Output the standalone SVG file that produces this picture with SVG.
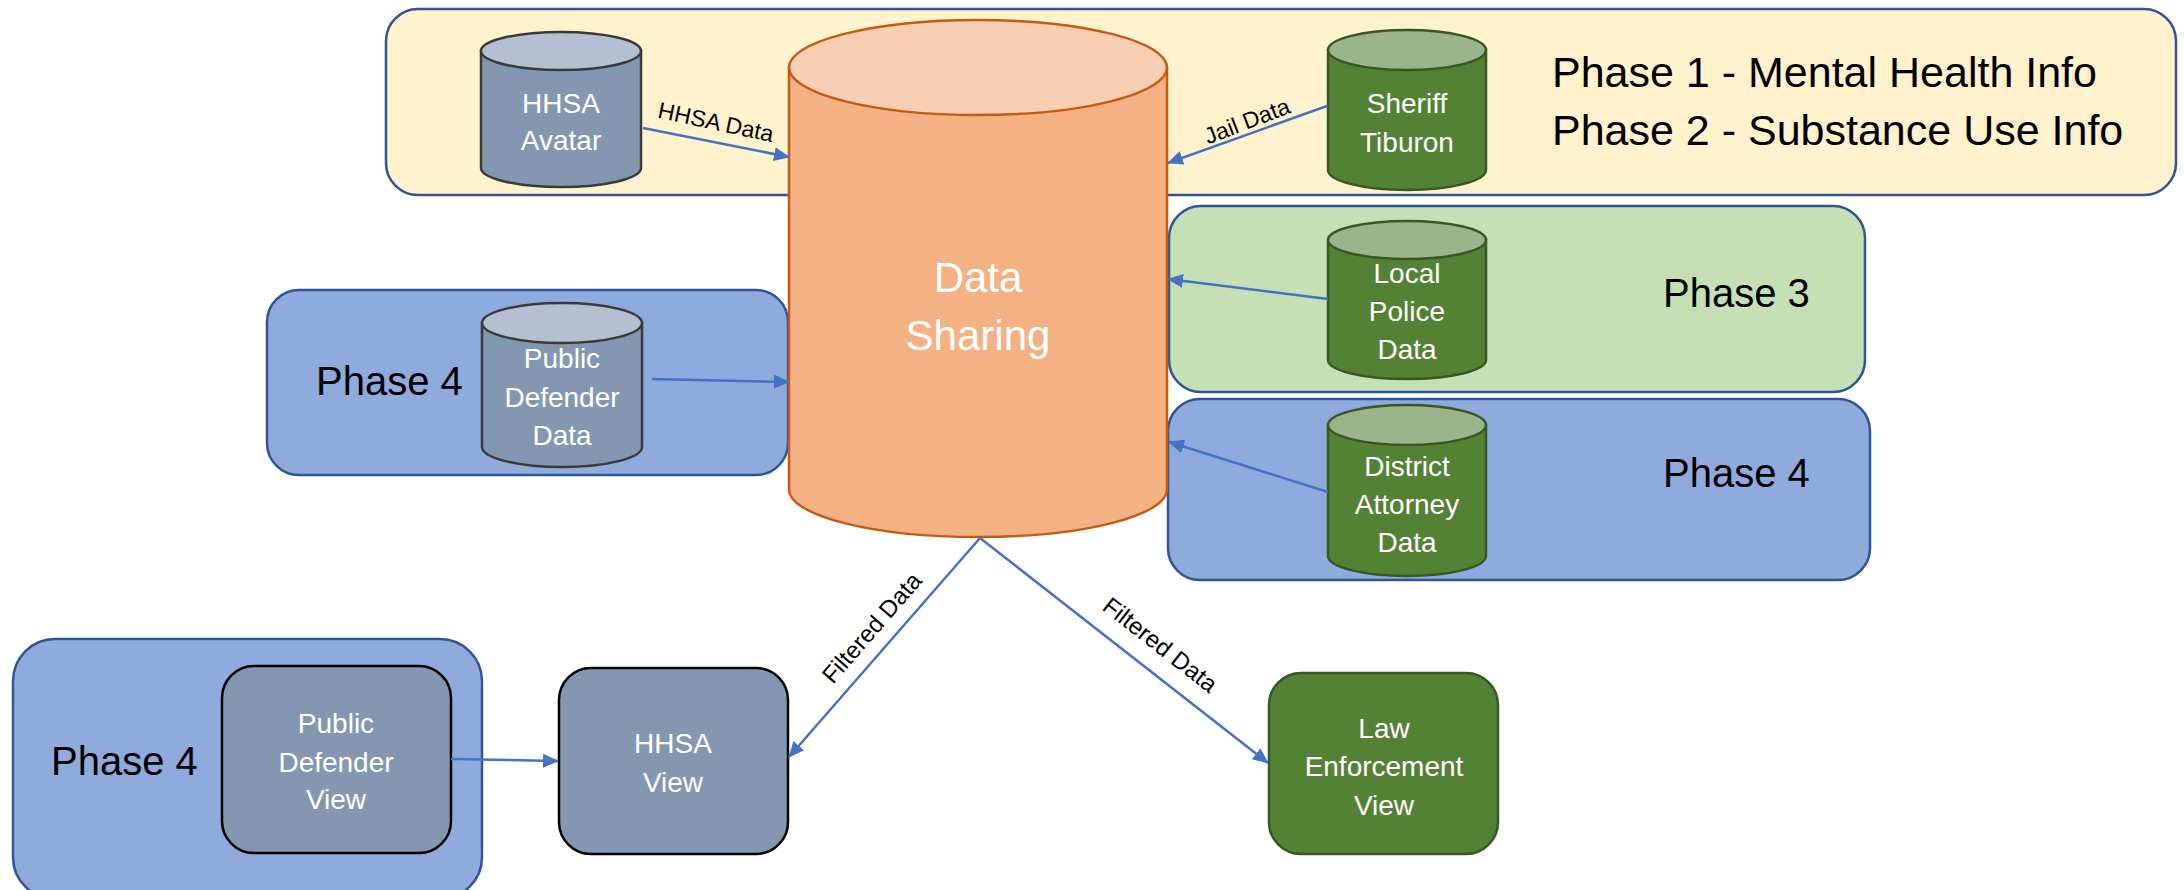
<svg xmlns="http://www.w3.org/2000/svg" width="2184" height="890" viewBox="0 0 2184 890">
<style>
.box{stroke:#2F5597;stroke-width:2.5}
.yel{fill:#FFF2CC}
.grn{fill:#C5E0B4}
.blu{fill:#8FAADC}
.gside{fill:#8497B0;stroke:#3A3A3A;stroke-width:2.5}
.gtop{fill:#B4C0D1;stroke:#3A3A3A;stroke-width:2.5}
.vside{fill:#548235;stroke:#385723;stroke-width:2.5}
.vtop{fill:#9AB58A;stroke:#385723;stroke-width:2.5}
.oside{fill:#F4B183;stroke:#C55A11;stroke-width:2.5}
.otop{fill:#F8CEB2;stroke:#C55A11;stroke-width:2.5}
.view{fill:#8497B0;stroke:#000;stroke-width:2.5}
.lev{fill:#548235;stroke:#385723;stroke-width:2.5}
.nt{font-family:"Liberation Sans",Arial,sans-serif;font-size:28px;fill:#fff;text-anchor:middle}
.ds{font-family:"Liberation Sans",Arial,sans-serif;font-size:42px;fill:#fff;text-anchor:middle}
.ph{font-family:"Liberation Sans",Arial,sans-serif;font-size:40px;fill:#000}
.ph1{font-family:"Liberation Sans",Arial,sans-serif;font-size:43px;fill:#000}
.lbl{font-family:"Liberation Sans",Arial,sans-serif;font-size:23px;fill:#000;text-anchor:middle}
.lbl2{font-family:"Liberation Sans",Arial,sans-serif;font-size:24px;fill:#000;text-anchor:middle}
.con{stroke:#4472C4;stroke-width:2.5;fill:none;marker-end:url(#ah)}
</style>
<defs>
<marker id="ah" markerUnits="userSpaceOnUse" markerWidth="16" markerHeight="14" refX="15" refY="7" orient="auto">
<path d="M0,0 L16,7 L0,14 z" fill="#4472C4"/>
</marker>
</defs>

<g id="phase12">
<rect class="box yel" x="386" y="9" width="1790" height="186" rx="32"/>
<text class="ph1" x="1552" y="87">Phase 1 - Mental Health Info</text>
<text class="ph1" x="1552" y="145">Phase 2 - Substance Use Info</text>
</g>
<g id="phase3">
<rect class="box grn" x="1169" y="206" width="696" height="186" rx="32"/>
<text class="ph" x="1663" y="307">Phase 3</text>
</g>
<g id="phase4-da">
<rect class="box blu" x="1168" y="399" width="702" height="181" rx="32"/>
<text class="ph" x="1663" y="487">Phase 4</text>
</g>
<g id="phase4-pd">
<rect class="box blu" x="267" y="290" width="521" height="185" rx="32"/>
<text class="ph" x="316" y="395">Phase 4</text>
</g>
<g id="phase4-pdview">
<rect class="box blu" x="13" y="639" width="469" height="260" rx="42"/>
<text class="ph" x="51" y="775">Phase 4</text>
</g>

<g id="data-sharing">
<path class="oside" d="M789,67.5 L789,489.5 A189,47.5 0 0 0 1167,489.5 L1167,67.5 Z"/>
<ellipse class="otop" cx="978" cy="67.5" rx="189" ry="47.5"/>
<text class="ds" x="978" y="292">Data</text>
<text class="ds" x="978" y="350">Sharing</text>
</g>

<g id="hhsa-avatar">
<path class="gside" d="M481,51 L481,168 A80,19 0 0 0 641,168 L641,51 Z"/>
<ellipse class="gtop" cx="561" cy="51" rx="80" ry="19"/>
<text class="nt" x="561" y="113">HHSA</text>
<text class="nt" x="561" y="150">Avatar</text>
</g>
<g id="sheriff-tiburon">
<path class="vside" d="M1328,50 L1328,170 A79,20 0 0 0 1486,170 L1486,50 Z"/>
<ellipse class="vtop" cx="1407" cy="50" rx="79" ry="20"/>
<text class="nt" x="1407" y="113">Sheriff</text>
<text class="nt" x="1407" y="152">Tiburon</text>
</g>
<g id="local-police">
<path class="vside" d="M1328,240 L1328,360 A79,19 0 0 0 1486,360 L1486,240 Z"/>
<ellipse class="vtop" cx="1407" cy="240" rx="79" ry="19"/>
<text class="nt" x="1407" y="283">Local</text>
<text class="nt" x="1407" y="321">Police</text>
<text class="nt" x="1407" y="359">Data</text>
</g>
<g id="district-attorney">
<path class="vside" d="M1328,425 L1328,556 A79,20 0 0 0 1486,556 L1486,425 Z"/>
<ellipse class="vtop" cx="1407" cy="425" rx="79" ry="20"/>
<text class="nt" x="1407" y="476">District</text>
<text class="nt" x="1407" y="514">Attorney</text>
<text class="nt" x="1407" y="552">Data</text>
</g>
<g id="public-defender-data">
<path class="gside" d="M482,323 L482,447 A80,20 0 0 0 642,447 L642,323 Z"/>
<ellipse class="gtop" cx="562" cy="323" rx="80" ry="20"/>
<text class="nt" x="562" y="368">Public</text>
<text class="nt" x="562" y="407">Defender</text>
<text class="nt" x="562" y="445">Data</text>
</g>
<g id="hhsa-view">
<rect class="view" x="559" y="668" width="229" height="186" rx="32"/>
<text class="nt" x="673" y="753">HHSA</text>
<text class="nt" x="673" y="792">View</text>
</g>
<g id="public-defender-view">
<rect class="view" x="222" y="666" width="229" height="187" rx="32"/>
<text class="nt" x="336" y="733">Public</text>
<text class="nt" x="336" y="772">Defender</text>
<text class="nt" x="336" y="809">View</text>
</g>
<g id="law-enforcement-view">
<rect class="lev" x="1269" y="673" width="229" height="181" rx="32"/>
<text class="nt" x="1384" y="738">Law</text>
<text class="nt" x="1384" y="776">Enforcement</text>
<text class="nt" x="1384" y="815">View</text>
</g>

<g id="connectors">
<line class="con" x1="643" y1="128" x2="789" y2="157"/>
<line class="con" x1="1327" y1="106" x2="1168" y2="163"/>
<line class="con" x1="1328" y1="299" x2="1168" y2="279"/>
<line class="con" x1="1328" y1="492" x2="1169" y2="442"/>
<line class="con" x1="652" y1="379" x2="789" y2="382"/>
<line class="con" x1="980" y1="538" x2="789" y2="757"/>
<line class="con" x1="980" y1="538" x2="1268" y2="763"/>
<line class="con" x1="451" y1="759" x2="558" y2="761"/>
<text class="lbl" transform="translate(716,122) rotate(12)" y="8">HHSA Data</text>
<text class="lbl" transform="translate(1247,121) rotate(-21)" y="8">Jail Data</text>
<text class="lbl2" transform="translate(872,628) rotate(-49)" y="8">Filtered Data</text>
<text class="lbl2" transform="translate(1160,645) rotate(38)" y="8">Filtered Data</text>
</g>
</svg>
